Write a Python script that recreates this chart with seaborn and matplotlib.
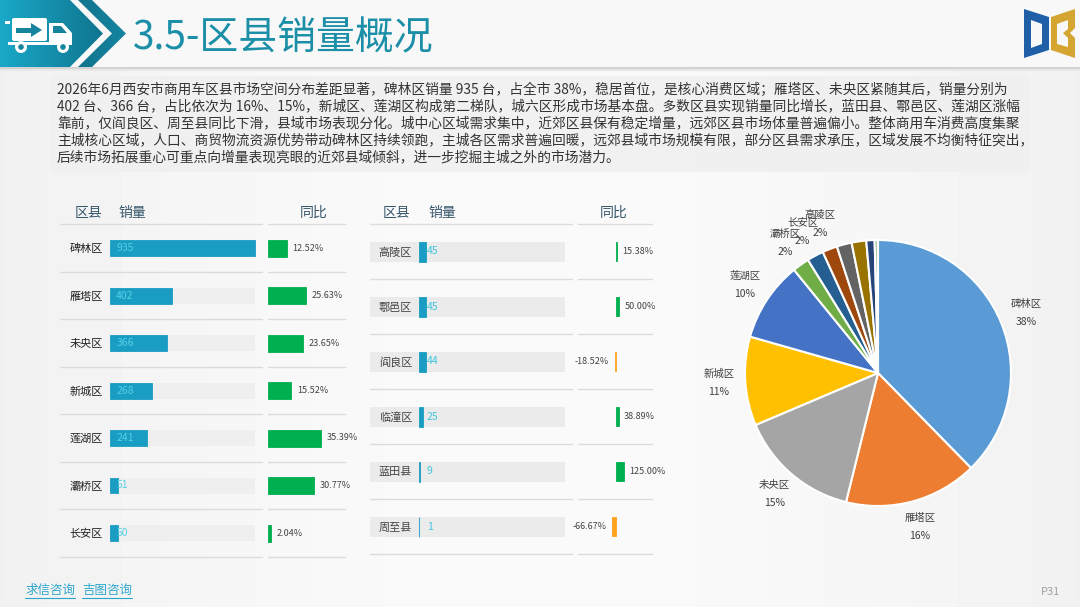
import matplotlib
matplotlib.use('Agg')
import matplotlib.pyplot as plt
import seaborn as sns
import numpy as np
from matplotlib.patches import Polygon, Rectangle, Circle, FancyBboxPatch
from matplotlib.colors import LinearSegmentedColormap

sns.set_theme(style='white')
plt.rcParams['font.family'] = ['Noto Sans CJK SC', 'DejaVu Sans']

# 数据
left_names = ['碑林区', '雁塔区', '未央区', '新城区', '莲湖区', '灞桥区', '长安区']
left_sales = [935, 402, 366, 268, 241, 51, 50]
left_yoy = [12.52, 25.63, 23.65, 15.52, 35.39, 30.77, 2.04]

mid_names = ['高陵区', '鄠邑区', '阎良区', '临潼区', '蓝田县', '周至县']
mid_sales = [45, 45, 44, 25, 9, 1]
mid_yoy = [15.38, 50.00, -18.52, 38.89, 125.00, -66.67]

pie_colors = ['#5B9BD5', '#ED7D31', '#A5A5A5', '#FFC000', '#4472C4', '#70AD47', '#255E91',
              '#9E480E', '#636363', '#997300', '#264478', '#43682B', '#698ED0']
n_pie_labels = 8

title = '3.5-区县销量概况'
para = [
    '2026年6月西安市商用车区县市场空间分布差距显著，碑林区销量 935 台，占全市 38%，稳居首位，是核心消费区域；雁塔区、未央区紧随其后，销量分别为',
    '402 台、366 台，占比依次为 16%、15%，新城区、莲湖区构成第二梯队，城六区形成市场基本盘。多数区县实现销量同比增长，蓝田县、鄠邑区、莲湖区涨幅',
    '靠前，仅阎良区、周至县同比下滑，县域市场表现分化。城中心区域需求集中，近郊区县保有稳定增量，远郊区县市场体量普遍偏小。整体商用车消费高度集聚',
    '主城核心区域，人口、商贸物流资源优势带动碑林区持续领跑，主城各区需求普遍回暖，远郊县域市场规模有限，部分区县需求承压，区域发展不均衡特征突出，',
    '后续市场拓展重心可重点向增量表现亮眼的近郊县域倾斜，进一步挖掘主城之外的市场潜力。',
]

BAR = '#1a9dc2'
GREEN = '#00b050'
ORANGE = '#ffa31a'
VAL_C = '#55d0e6'
HEAD_C = '#37576b'
LINE_C = '#dcdcdc'
BG = '#f4f4f4'

W, H = 1080, 607
fig = plt.figure(figsize=(W / 100, H / 100), dpi=100)
fig.patch.set_facecolor(BG)


def px_axes(x, y, w, h, z=1):
    ax = fig.add_axes([x / W, 1 - (y + h) / H, w / W, h / H], zorder=z)
    ax.patch.set_visible(False)
    return ax


# 背景层
bg = px_axes(0, 0, W, H, z=0)
grad = 0.945 + 0.035 * np.sin(np.pi * np.linspace(0, 1, 300))
bg.imshow(np.tile(grad, (2, 1)), extent=[0, W, H, 0], cmap='gray', vmin=0, vmax=1,
          aspect='auto', zorder=0)
bg.add_patch(Rectangle((0, 0), W, 67, fc='#f8f8f8', ec='none'))
bg.plot([0, W], [67.5, 67.5], color='#d2d2d2', lw=1.5)
bg.plot([0, W], [69.5, 69.5], color='#e8e8e8', lw=1.5)

teal1 = LinearSegmentedColormap.from_list('t1', ['#1aa8c8', '#0d6a82'])
teal2 = LinearSegmentedColormap.from_list('t2', ['#0c5a6e', '#1584a0'])
block = Polygon([(0, 0), (70, 0), (103, 33.5), (70, 67), (0, 67)], fc='none', ec='none')
chev = Polygon([(78, 0), (92, 0), (126, 33.5), (92, 67), (78, 67), (112, 33.5)], fc='none', ec='none')
for poly, cm in [(block, teal1), (chev, teal2)]:
    bg.add_patch(poly)
    im = bg.imshow(np.tile(np.linspace(0, 1, 100), (2, 1)), extent=[0, 126, 67, 0],
                   cmap=cm, aspect='auto', zorder=2)
    im.set_clip_path(poly)

# 卡车图标
icon = dict(ec='none', zorder=3)
bg.add_patch(FancyBboxPatch((12, 18), 35, 23, boxstyle='round,pad=0,rounding_size=2', fc='white', **icon))
bg.add_patch(Polygon([(49, 23), (63, 23), (72, 33), (72, 44), (49, 44)], fc='white', **icon))
bg.add_patch(Polygon([(53, 26), (61, 26), (67, 33), (53, 33)], fc='#17849e', **icon))
bg.add_patch(Rectangle((16, 27.5), 16, 5, fc='#17849e', **icon))
bg.add_patch(Polygon([(31, 23), (42, 30), (31, 37)], fc='#17849e', **icon))
bg.add_patch(Rectangle((8, 42), 64, 3, fc='white', **icon))
bg.add_patch(Rectangle((5, 21), 5, 2.5, fc='white', **icon))
for cx in (21, 63):
    bg.add_patch(Circle((cx, 47), 6, fc='white', **icon))
    bg.add_patch(Circle((cx, 47), 2.8, fc='#17849e', **icon))

bg.text(133, 38, title, fontsize=28, color='#1b8ea8', va='center', ha='left')

# 标志
bg.add_patch(Polygon([(1024, 9), (1049, 17), (1049, 50), (1024, 58)], fc='#1f5fa8', ec='none'))
bg.add_patch(Polygon([(1031, 20), (1042, 24), (1042, 44), (1031, 48)], fc='#f8f8f8', ec='none'))
bg.add_patch(Polygon([(1051, 17), (1075, 9), (1075, 28), (1070, 33), (1075, 38), (1075, 58), (1051, 50)],
                     fc='#d4a531', ec='none'))
bg.add_patch(Polygon([(1057, 24), (1068, 20), (1068, 29), (1063, 33), (1068, 38), (1068, 47), (1057, 44)],
                     fc='#f8f8f8', ec='none'))

# 文字段落
bg.add_patch(Rectangle((50, 76), 980, 96, fc='#f0f0f0', ec='none', alpha=0.9))
for i, line in enumerate(para):
    bg.text(57, 90 + 16.7 * i, line, fontsize=9.9, color='#333333', va='center', ha='left')

# 表格布局
L_TOP, L_DY = 224.25, 47.5
M_TOP, M_DY = 224.0, 55.0

for x, t in [(75, '区县'), (118, '销量'), (300, '同比'), (383, '区县'), (428, '销量'), (600, '同比')]:
    bg.text(x, 213, t, fontsize=10, color=HEAD_C, va='center', ha='left')

for k in range(len(left_names) + 1):
    y = L_TOP + L_DY * k
    bg.plot([60, 262], [y, y], color=LINE_C, lw=1)
    bg.plot([268, 345], [y, y], color=LINE_C, lw=1)
for k in range(len(mid_names) + 1):
    y = M_TOP + M_DY * k
    bg.plot([370, 572], [y, y], color=LINE_C, lw=1)
    bg.plot([578, 652], [y, y], color=LINE_C, lw=1)
for i in range(len(left_names)):
    yc = L_TOP + L_DY * (i + 0.5)
    bg.add_patch(Rectangle((110, yc - 8), 145, 16, fc='#efefef', ec='none'))
for i in range(len(mid_names)):
    yc = M_TOP + M_DY * (i + 0.5)
    bg.add_patch(Rectangle((370, yc - 10), 195, 20, fc='#ebebeb', ec='none'))

bg.text(25, 590, '求信咨询', fontsize=9, color='#2aa6cc', va='center', ha='left')
bg.text(82, 590, '吉图咨询', fontsize=9, color='#2aa6cc', va='center', ha='left')
bg.plot([25, 75], [598, 598], color='#2aa6cc', lw=0.8)
bg.plot([82, 132], [598, 598], color='#2aa6cc', lw=0.8)
bg.text(1060, 592, 'P31', fontsize=8, color='#a0a0a0', va='center', ha='right')

bg.set_xlim(0, W)
bg.set_ylim(H, 0)
bg.axis('off')


def clean(ax):
    sns.despine(ax=ax, left=True, bottom=True)
    ax.set_xlabel('')
    ax.set_ylabel('')
    ax.set_xticks([])
    ax.grid(False)


def sales_bars(ax, names, sales, width, name_color, label_pad, label_color):
    sns.barplot(x=sales, y=names, orient='h', ax=ax, color=BAR, width=width,
                saturation=1, edgecolor=BAR, linewidth=0.6)
    ax.set_xlim(0, 1000)
    ax.set_ylim(len(names) - 0.5, -0.5)
    clean(ax)
    ax.tick_params(axis='y', length=0, pad=5, labelsize=8, labelcolor=name_color)
    for i, v in enumerate(sales):
        ax.annotate(str(v), xy=(0, i), xytext=(label_pad, 0), textcoords='offset points',
                    va='center', ha='left', fontsize=7.5, color=label_color)


def yoy_bars(ax, names, yoy, width, xlim):
    signs = ['up' if v >= 0 else 'down' for v in yoy]
    sns.barplot(x=yoy, y=names, hue=signs, orient='h', ax=ax, dodge=False, width=width,
                palette={'up': GREEN, 'down': ORANGE}, saturation=1, legend=False, linewidth=0.6)
    for c in ax.containers:
        for p in c.patches:
            p.set_edgecolor(p.get_facecolor())
        ax.bar_label(c, fmt=lambda v: f'{v:.2f}%', padding=4, fontsize=6.5, color='#444444')
    ax.set_xlim(*xlim)
    ax.set_ylim(len(names) - 0.5, -0.5)
    clean(ax)
    ax.set_yticks([])


ax1 = px_axes(110, L_TOP, 155, L_DY * len(left_names))
sales_bars(ax1, left_names, left_sales, 16 / L_DY, '#222222', 4.5, VAL_C)
ax2 = px_axes(268, L_TOP, 60, L_DY * len(left_names))
yoy_bars(ax2, left_names, left_yoy, 17 / L_DY, (0, 40))

ax3 = px_axes(419, M_TOP, 155, M_DY * len(mid_names))
sales_bars(ax3, mid_names, mid_sales, 20 / M_DY, '#444444', 5.5, '#3fc6de')
ax4 = px_axes(560, M_TOP, 100, M_DY * len(mid_names))
scale = 0.065
yoy_bars(ax4, mid_names, mid_yoy, 19 / M_DY, (-56 / scale, 44 / scale))

# 饼图
pie_names = left_names + mid_names
pie_vals = left_sales + mid_sales
total = sum(pie_vals)
pie_labels = [f'{n}\n{v / total * 100:.0f}%' if i < n_pie_labels else ''
              for i, (n, v) in enumerate(zip(pie_names, pie_vals))]
R = 133
axp = px_axes(878 - R, 373 - R, 2 * R, 2 * R, z=2)
wedges, texts = axp.pie(pie_vals, colors=pie_colors, startangle=90, counterclock=False,
                        labels=pie_labels, labeldistance=1.2,
                        wedgeprops=dict(edgecolor='white', linewidth=1.5),
                        textprops=dict(fontsize=7.5, color='#404040', linespacing=2.0))
for t in texts:
    t.set_ha('center')
    t.set_va('center')
axp.set_xlim(-1, 1)
axp.set_ylim(-1, 1)
axp.set_aspect('equal')

fig.savefig('out.png', dpi=100, facecolor=fig.get_facecolor())
